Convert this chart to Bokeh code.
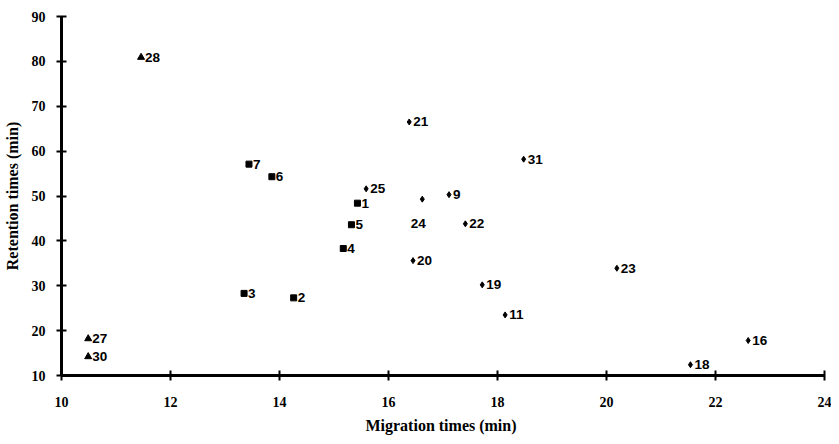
from bokeh.plotting import figure
from bokeh.models import ColumnDataSource, SingleIntervalTicker
from bokeh.core.properties import value
from bokeh.embed import file_html
from bokeh.resources import INLINE

# Squares (compounds 1-7)
sq_ids = ["1", "2", "3", "4", "5", "6", "7"]
sq_x = [15.43, 14.26, 13.35, 15.17, 15.32, 13.86, 13.44]
sq_y = [48.4, 27.3, 28.3, 38.3, 43.6, 54.3, 57.1]

# Triangles
tr_ids = ["27", "28", "30"]
tr_x = [10.49, 11.46, 10.49]
tr_y = [18.2, 80.9, 14.2]

# Diamonds
di_ids = ["9", "11", "16", "18", "19", "20", "21", "22", "23", "24", "25", "31"]
di_x = [17.11, 18.14, 22.60, 21.54, 17.72, 16.45, 16.38, 17.41, 20.19, 16.62, 15.59, 18.48]
di_y = [50.3, 23.5, 17.8, 12.4, 30.2, 35.6, 66.5, 43.8, 33.9, 49.3, 51.6, 58.2]

below_labels = ["24"]

x_title = "Migration times  (min)"
y_title = "Retention times (min)"

p = figure(width=831, height=436, x_range=(10, 24), y_range=(10, 90),
           output_backend="svg", toolbar_location=None,
           min_border_left=60, min_border_right=7, min_border_top=16, min_border_bottom=58)
p.outline_line_color = None
p.xgrid.visible = False
p.ygrid.visible = False

for ax in (p.xaxis[0], p.yaxis[0]):
    ax.axis_line_width = 3
    ax.axis_line_color = "black"
    ax.major_tick_line_width = 2
    ax.major_tick_in = 5
    ax.major_tick_out = 5
    ax.minor_tick_line_color = None
    ax.major_label_text_font = "Liberation Serif"
    ax.major_label_text_font_style = "bold"
    ax.major_label_text_font_size = "14px"
    ax.major_label_text_color = "black"
    ax.axis_label_text_font = "Liberation Serif"
    ax.axis_label_text_font_style = "bold"
    ax.axis_label_text_font_size = "16px"
    ax.axis_label_text_color = "black"

p.xaxis[0].ticker = SingleIntervalTicker(interval=2)
p.yaxis[0].ticker = SingleIntervalTicker(interval=10)
p.xaxis[0].major_label_standoff = 16
p.yaxis[0].major_label_standoff = 11
p.xaxis[0].axis_label = x_title
p.yaxis[0].axis_label = y_title
p.xaxis[0].axis_label_standoff = 7
p.yaxis[0].axis_label_standoff = 8

p.scatter(sq_x, sq_y, marker="square", size=6, color="black")
p.scatter(tr_x, tr_y, marker="triangle", size=7, color="black")
p.scatter(di_x, di_y, marker="diamond", size=6, color="black")

ids = sq_ids + tr_ids + di_ids
xs = sq_x + tr_x + di_x
ys = sq_y + tr_y + di_y
right = ColumnDataSource(dict(
    x=[x for x, i in zip(xs, ids) if i not in below_labels],
    y=[y for y, i in zip(ys, ids) if i not in below_labels],
    t=[i for i in ids if i not in below_labels]))
below = ColumnDataSource(dict(
    x=[x for x, i in zip(xs, ids) if i in below_labels],
    y=[y for y, i in zip(ys, ids) if i in below_labels],
    t=[i for i in ids if i in below_labels]))

common = dict(text="t", text_font=value("Liberation Sans"), text_font_style="bold",
              text_font_size="13.5px", text_color="black")
p.text(x="x", y="y", source=right, x_offset=4, y_offset=0,
       text_align="left", text_baseline="middle", **common)
p.text(x="x", y="y", source=below, x_offset=-4, y_offset=24,
       text_align="center", text_baseline="middle", **common)

open("out.html", "w").write(file_html(p, INLINE))
